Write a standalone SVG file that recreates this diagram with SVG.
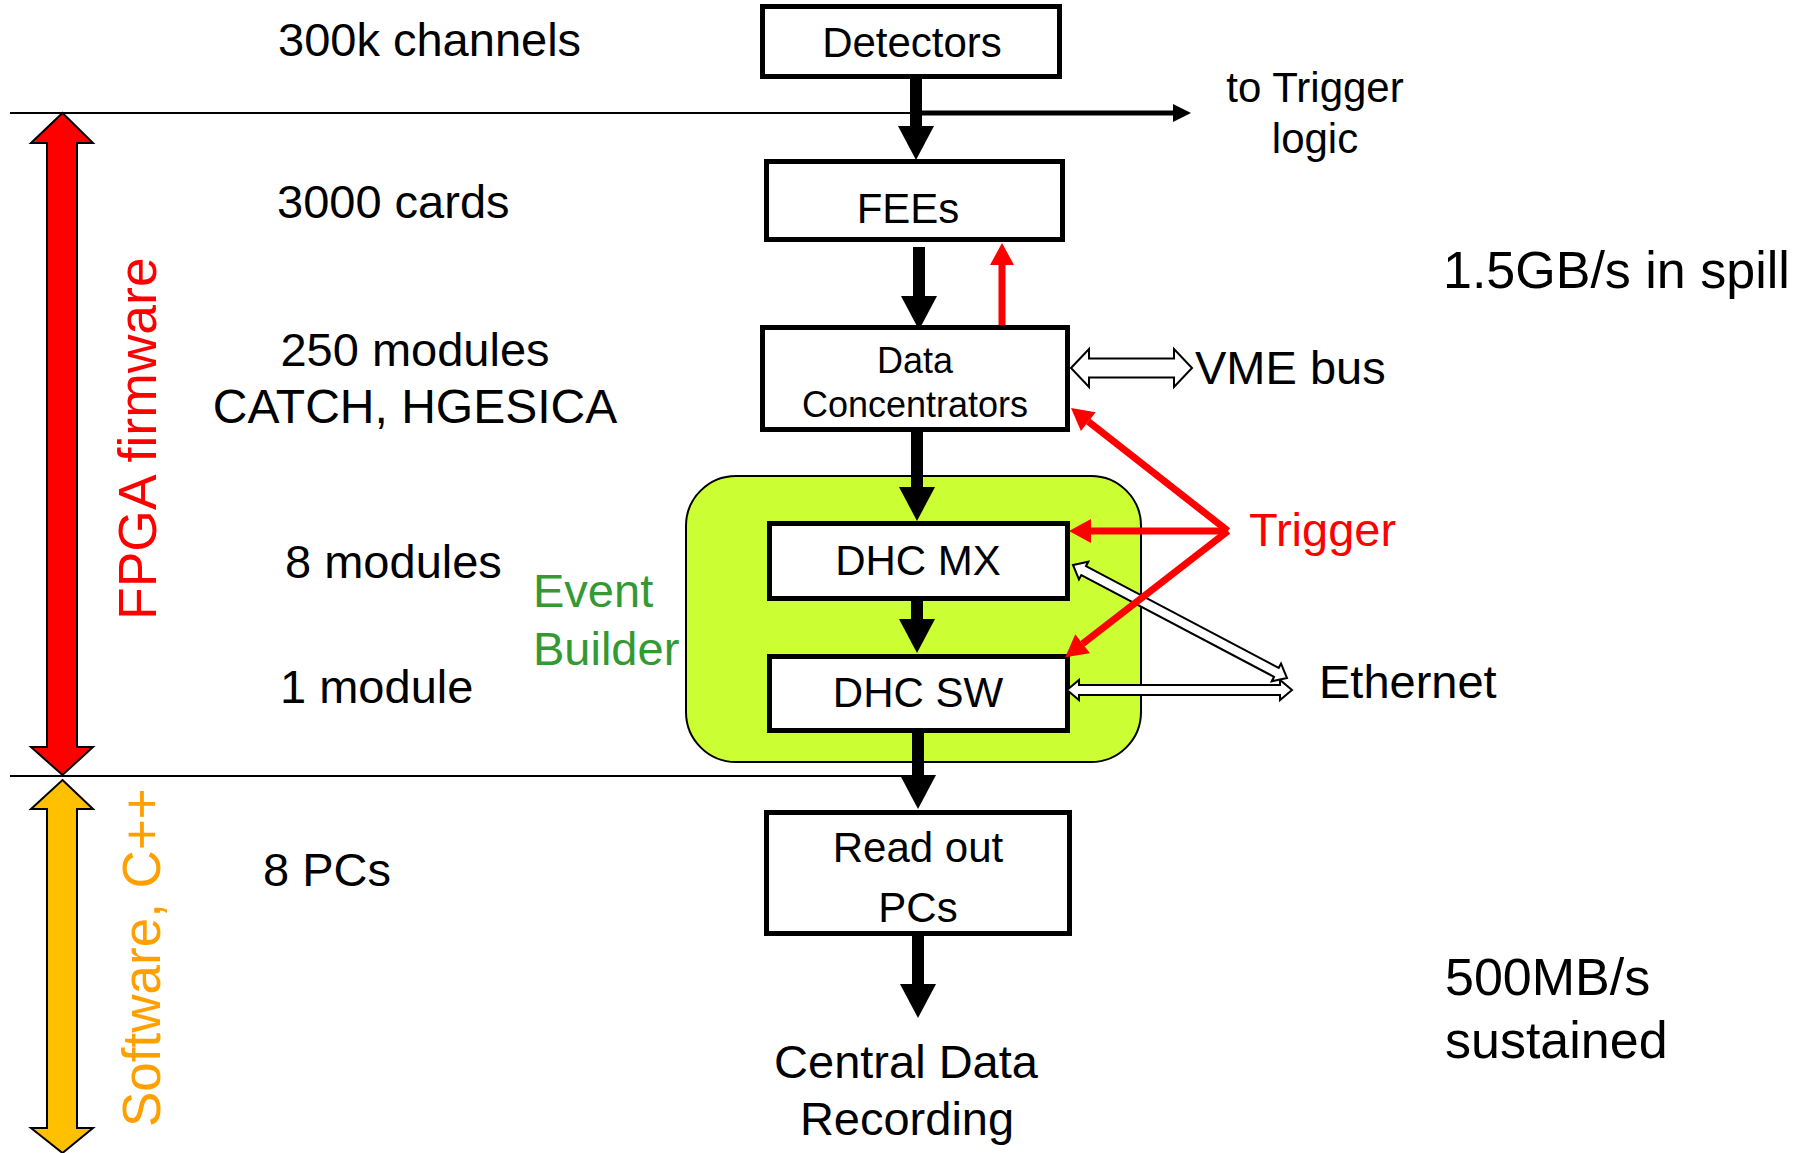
<svg xmlns="http://www.w3.org/2000/svg" width="1812" height="1153" viewBox="0 0 1812 1153">
<style>
text{font-family:"Liberation Sans",Arial,sans-serif;fill:#000}
.t47{font-size:47px}
.t42{font-size:42px}
.t36{font-size:36px}
.t52{font-size:52px}
.mid{text-anchor:middle}
.red{fill:#FF0000}
.org{fill:#FFA000}
.grn{fill:#339933}
.box{fill:#fff;stroke:#000;stroke-width:5}
.sep{stroke:#000;stroke-width:2;fill:none}
.fat{stroke:#000;stroke-width:12;fill:none;marker-end:url(#headK)}
.rl{stroke:#FF0000;stroke-width:7;fill:none;marker-end:url(#headR)}
.hollow{fill:#fff;stroke:#000;stroke-width:2;stroke-linejoin:miter}
</style>
<defs>
<marker id="headK" markerUnits="userSpaceOnUse" markerWidth="34" markerHeight="36" refX="0" refY="18" orient="auto" overflow="visible">
<path d="M0,0 L34,18 L0,36 Z" fill="#000"/>
</marker>
<marker id="headR" markerUnits="userSpaceOnUse" markerWidth="22" markerHeight="24" refX="0" refY="12" orient="auto" overflow="visible">
<path d="M0,0 L22,12 L0,24 Z" fill="#FF0000"/>
</marker>
<marker id="headS" markerUnits="userSpaceOnUse" markerWidth="18" markerHeight="18" refX="0" refY="9" orient="auto" overflow="visible">
<path d="M0,0 L18,9 L0,18 Z" fill="#000"/>
</marker>
</defs>

<g id="separators">
<line class="sep" x1="10" y1="113" x2="916" y2="113"/>
<line class="sep" x1="10" y1="776" x2="916" y2="776"/>
</g>

<g id="fpga-range">
<polygon points="62.5,113 93,143 77,143 77,747 93,747 62.5,775 31,747 47,747 47,143 31,143" fill="#FF0000" stroke="#000" stroke-width="2"/>
<text class="red" font-size="53.5" transform="translate(156,620) rotate(-90)">FPGA firmware</text>
</g>
<g id="software-range">
<polygon points="62.5,780 93,809 77,809 77,1128 93,1128 62.5,1153 31,1128 47,1128 47,809 31,809" fill="#FFC000" stroke="#000" stroke-width="2"/>
<text class="org" font-size="53" transform="translate(160,1127) rotate(-90)">Software, C++</text>
</g>

<g id="labels">
<text class="t47" x="278" y="56" font-size="47.5">300k channels</text>
<text class="t47" x="277" y="218">3000 cards</text>
<text class="t47 mid" x="415" y="366">250 modules</text>
<text class="mid" x="415" y="423" font-size="48">CATCH, HGESICA</text>
<text class="t47" x="285" y="578">8 modules</text>
<text class="t47" x="280" y="703">1 module</text>
<text class="t47" x="263" y="886">8 PCs</text>
<text class="t52" x="1443" y="288">1.5GB/s in spill</text>
<text class="t52" x="1445" y="995">500MB/s</text>
<text class="t52" x="1445" y="1058">sustained</text>
</g>

<g id="event-builder">
<rect x="686" y="476" width="455" height="286" rx="50" ry="50" fill="#CCFF33" stroke="#000" stroke-width="2"/>
<text class="t47 grn" x="533" y="607">Event</text>
<text class="t47 grn" x="533" y="665">Builder</text>
</g>

<g id="detectors">
<rect class="box" x="762.5" y="6.5" width="297" height="70"/>
<text class="t42 mid" x="912" y="57">Detectors</text>
</g>
<g id="fees">
<rect class="box" x="766.5" y="161.5" width="296" height="78"/>
<text class="t42 mid" x="908" y="223">FEEs</text>
</g>
<g id="data-concentrators">
<rect class="box" x="762.5" y="327.5" width="305" height="102"/>
<text class="t36 mid" x="915" y="373">Data</text>
<text class="t36 mid" x="915" y="417">Concentrators</text>
</g>
<g id="dhc-mx">
<rect class="box" x="769.5" y="523.5" width="298" height="75"/>
<text class="t42 mid" x="918" y="575">DHC MX</text>
</g>
<g id="dhc-sw">
<rect class="box" x="769.5" y="656.5" width="298" height="74"/>
<text class="t42 mid" x="918" y="707">DHC SW</text>
</g>
<g id="readout-pcs">
<rect class="box" x="766.5" y="812.5" width="303" height="121"/>
<text class="t42 mid" x="918" y="862">Read out</text>
<text class="t42 mid" x="918" y="922">PCs</text>
</g>
<g id="central-data-recording">
<text class="t47 mid" x="906" y="1078">Central Data</text>
<text class="t47 mid" x="907" y="1135">Recording</text>
</g>
<g id="trigger-logic">
<text class="t42 mid" x="1315" y="102">to Trigger</text>
<text class="t42 mid" x="1315" y="153">logic</text>
</g>
<g id="vme-bus">
<text class="t47" x="1195" y="384">VME bus</text>
</g>
<g id="trigger">
<text class="t47 red" x="1249" y="546">Trigger</text>
</g>
<g id="ethernet">
<text class="t47" x="1319" y="698">Ethernet</text>
</g>

<g id="connectors">
<line class="fat" x1="916" y1="79" x2="916" y2="126"/>
<line x1="916" y1="113" x2="1173" y2="113" stroke="#000" stroke-width="5" marker-end="url(#headS)"/>
<line class="fat" x1="919" y1="247" x2="919" y2="296"/>
<line class="fat" x1="917" y1="432" x2="917" y2="487"/>
<line class="fat" x1="917" y1="601" x2="917" y2="619"/>
<line class="fat" x1="918" y1="733" x2="918" y2="775"/>
<line class="fat" x1="918" y1="936" x2="918" y2="984"/>
<polygon class="hollow" points="1071,368 1089,349 1089,358.5 1174,358.5 1174,349 1192,368 1174,387 1174,377.5 1089,377.5 1089,387"/>
<polygon class="hollow" points="1067,690 1079,680 1079,685 1280,685 1280,680 1292,690 1280,700 1280,695 1079,695 1079,700"/>
<polygon class="hollow" transform="translate(1073,565) rotate(27.84)" points="0,0 12,-10 12,-5 230,-5 230,-10 242,0 230,10 230,5 12,5 12,10"/>
<line class="rl" x1="1228" y1="531" x2="1088.3" y2="421.6"/>
<line class="rl" x1="1228" y1="531" x2="1091" y2="531"/>
<line class="rl" x1="1228" y1="531" x2="1082.6" y2="643.8"/>
<line class="rl" x1="1002" y1="325" x2="1002" y2="265"/>
</g>
</svg>
